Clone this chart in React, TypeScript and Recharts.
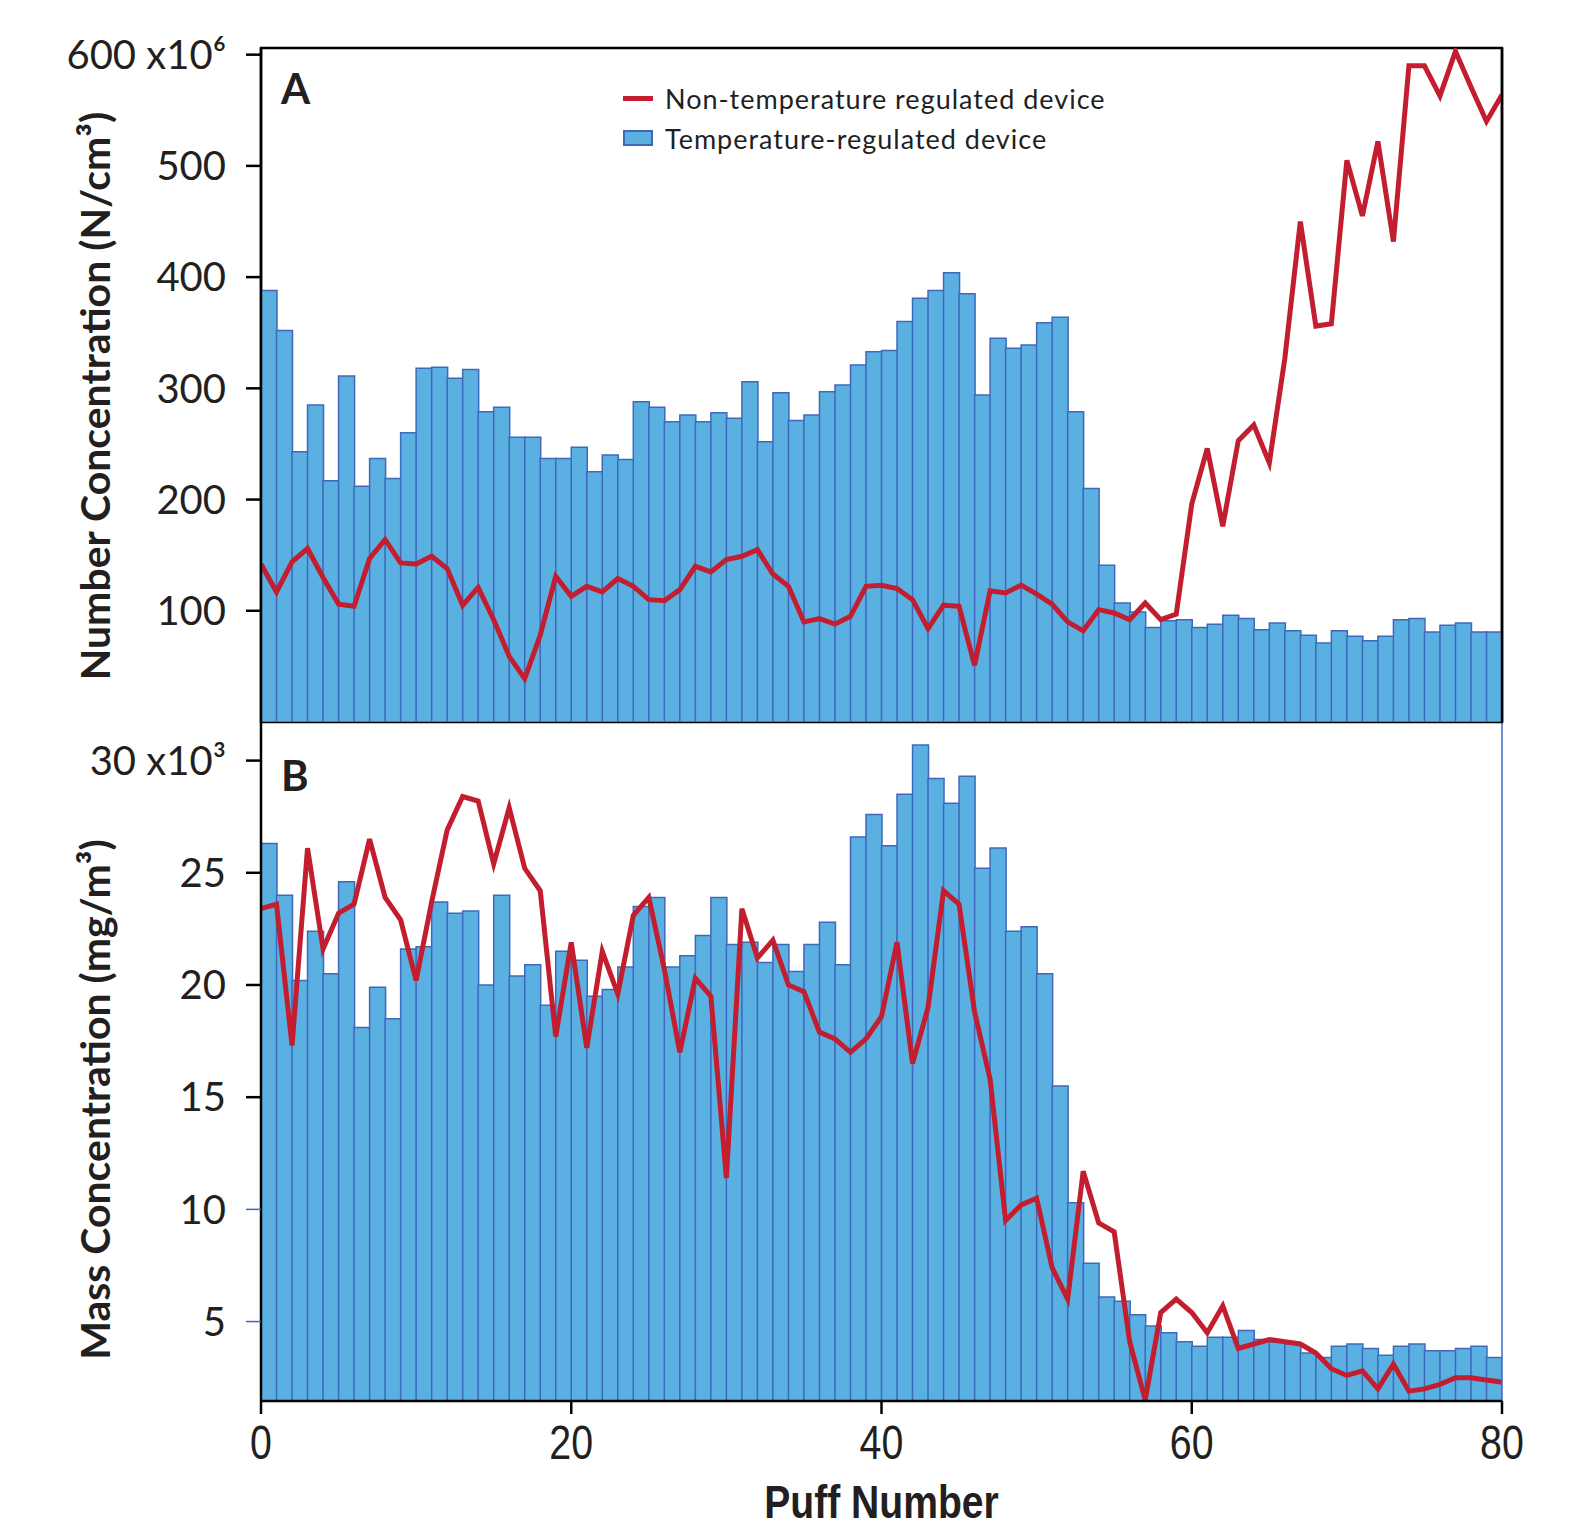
import React from "react";
import { ComposedChart, Bar, Line, XAxis, YAxis, Legend, ReferenceArea, ReferenceLine } from "recharts";

// puff index (x axis categories)
const puffNumber = [
  0, 1, 2, 3, 4, 5, 6, 7, 8, 9, 10, 11, 12, 13, 14, 15, 16, 17, 18, 19, 20,
  21, 22, 23, 24, 25, 26, 27, 28, 29, 30, 31, 32, 33, 34, 35, 36, 37, 38, 39, 40,
  41, 42, 43, 44, 45, 46, 47, 48, 49, 50, 51, 52, 53, 54, 55, 56, 57, 58, 59, 60,
  61, 62, 63, 64, 65, 66, 67, 68, 69, 70, 71, 72, 73, 74, 75, 76, 77, 78, 79, 80,
];

// panel A: number concentration, x10^6 N/cm3
const numberTempRegulated = [
  388, 352, 243, 285, 217, 311, 212, 237, 219, 260,
  318, 319, 309, 317, 279, 283, 256, 256, 237, 237,
  247, 225, 240, 236, 288, 283, 270, 276, 270, 278,
  273, 306, 252, 296, 271, 276, 297, 303, 321, 333,
  334, 360, 381, 388, 404, 385, 294, 345, 336, 339,
  359, 364, 279, 210, 141, 107, 99, 85, 91, 92,
  85, 88, 96, 93, 83, 89, 82, 78, 71, 82,
  77, 73, 77, 92, 93, 81, 87, 89, 81, 81,
];
const numberNonRegulated = [
  142, 117, 144, 156, 130, 106, 104, 147, 164, 143,
  142, 149, 138, 105, 121, 92, 59, 39, 78, 131,
  113, 122, 117, 129, 122, 110, 109, 119, 140, 135,
  146, 149, 155, 133, 122, 90, 93, 88, 95, 122,
  123, 120, 110, 84, 105, 104, 51, 118, 116, 123,
  115, 106, 90, 82, 101, 98, 92, 107, 92, 97,
  196, 246, 176, 253, 267, 233, 327, 450, 356, 358,
  505, 455, 522, 432, 590, 590, 563, 603, 571, 540,
  564,
];

// panel B: mass concentration, x10^3 mg/m3
const massTempRegulated = [
  26.3, 24.0, 20.2, 22.4, 20.5, 24.6, 18.1, 19.9, 18.5, 21.6,
  21.7, 23.7, 23.2, 23.3, 20.0, 24.0, 20.4, 20.9, 19.1, 21.5,
  21.1, 19.5, 19.8, 20.8, 23.5, 23.9, 20.8, 21.3, 22.2, 23.9,
  21.8, 21.9, 21.0, 21.8, 20.6, 21.8, 22.8, 20.9, 26.6, 27.6,
  26.2, 28.5, 30.7, 29.2, 28.1, 29.3, 25.2, 26.1, 22.4, 22.6,
  20.5, 15.5, 10.3, 7.6, 6.1, 5.9, 5.3, 4.8, 4.5, 4.1,
  3.9, 4.3, 4.3, 4.6, 4.2, 4.1, 4.0, 3.6, 3.4, 3.9,
  4.0, 3.8, 3.5, 3.9, 4.0, 3.7, 3.7, 3.8, 3.9, 3.4,
];
const massNonRegulated = [
  23.4, 23.6, 17.3, 26.1, 21.6, 23.2, 23.6, 26.5, 23.9, 22.9,
  20.2, 23.7, 26.9, 28.4, 28.2, 25.4, 27.9, 25.2, 24.2, 17.7,
  21.9, 17.2, 21.5, 19.6, 23.1, 23.9, 20.7, 17.0, 20.3, 19.5,
  11.4, 23.4, 21.2, 22.0, 20.0, 19.7, 17.9, 17.6, 17.0, 17.6,
  18.6, 21.9, 16.5, 19.0, 24.2, 23.6, 18.8, 15.8, 9.5, 10.2,
  10.5, 7.4, 6.0, 11.7, 9.4, 9.0, 4.1, 1.5, 5.4, 6.0,
  5.4, 4.5, 5.7, 3.8, 4.0, 4.2, 4.1, 4.0, 3.6, 2.9,
  2.6, 2.8, 2.0, 3.1, 1.9, 2.0, 2.2, 2.5, 2.5, 2.4,
  2.3,
];

const numberTicks = [100, 200, 300, 400, 500, 600];
const numberMinorTicks = [50];
const massTicks = [5, 10, 15, 20, 25, 30];
const puffTicks = [0, 20, 40, 60, 80];

const lineName = "Non-temperature regulated device";
const barName = "Temperature-regulated device";

const numberDomain = [0, 606];
const massDomain = [1.46, 31.72];

const numberRows = puffNumber.map((p, i) => ({
  puff: p,
  mid: p + 0.5,
  bar: numberTempRegulated[i] ?? null,
  line: numberNonRegulated[i],
}));
const massRows = puffNumber.map((p, i) => ({
  puff: p,
  mid: p + 0.5,
  bar: massTempRegulated[i] ?? null,
  line: massNonRegulated[i],
}));

const W = 1573;
const FONT = "Lato, 'Noto Sans', sans-serif";
const TEXT = "#231F20";
const BAR_FILL = "#5BB0E2";
const BAR_STROKE = "#3F68BC";
const RED = "#C21E2F";
const TICK_SIZE = 15;
const TICK_MARGIN = 20;

const AxisTitle = ({ viewBox, text, dy }: any) => {
  const x = viewBox.x + 110;
  const y = viewBox.y + viewBox.height / 2 + dy;
  return (
    <text x={x} y={y} transform={`rotate(-90 ${x} ${y})`} textAnchor="middle"
      fontFamily={FONT} fontWeight={700} fontSize={41} fill={TEXT}>
      {text}
    </text>
  );
};

const PanelLetter = ({ viewBox, letter, dx, dy }: any) => (
  <text x={viewBox.x + dx} y={viewBox.y + dy} fontFamily={FONT} fontWeight={700} fontSize={42} fill={TEXT}>
    {letter}
  </text>
);

const MassTick = ({ x, y, payload }: any) => {
  const v = payload.value;
  const blue = v <= 10;
  return (
    <g>
      <line x1={x + TICK_MARGIN} x2={x + TICK_MARGIN + TICK_SIZE} y1={y} y2={y}
        stroke={blue ? BAR_STROKE : "#000"} strokeWidth={blue ? 1.5 : 2.5} />
      <text x={x} y={y} dy="0.355em" textAnchor="end" fontFamily={FONT} fontSize={40} fill={TEXT}>
        {v === 30 ? "30 x10³" : v}
      </text>
    </g>
  );
};

const PuffTick = ({ x, y, payload }: any) => (
  <text transform={`translate(${x} ${y}) scale(0.82 1)`} textAnchor="middle" dy="0.71em"
    fontFamily="'Liberation Sans', Arial, sans-serif" fontSize={48} fill={TEXT}>
    {payload.value}
  </text>
);

const PuffTitle = ({ viewBox }: any) => (
  <text transform={`translate(${viewBox.x + viewBox.width / 2} ${viewBox.y + 117}) scale(0.85 1)`}
    textAnchor="middle" fontFamily="'Liberation Sans', Arial, sans-serif" fontWeight={700} fontSize={46} fill={TEXT}>
    Puff Number
  </text>
);

const renderLegend = (props: any) => {
  const items = [...(props.payload ?? [])].sort(
    (a: any, b: any) => (a.type === "line" ? 0 : 1) - (b.type === "line" ? 0 : 1)
  );
  return (
    <div style={{ fontFamily: FONT, fontSize: 27, letterSpacing: 1, color: TEXT }}>
      {items.map((it: any) => (
        <div key={it.value} style={{ display: "flex", alignItems: "center", height: 40 }}>
          {it.type === "line" ? (
            <div style={{ width: 30, height: 5, background: RED }} />
          ) : (
            <div style={{ width: 30, height: 16, boxSizing: "border-box", background: BAR_FILL, border: `2px solid ${BAR_STROKE}` }} />
          )}
          <span style={{ marginLeft: 12, whiteSpace: "nowrap" }}>{it.value}</span>
        </div>
      ))}
    </div>
  );
};

export default function App() {
  return (
    <div style={{ position: "absolute", left: 0, top: 0, width: W, height: 1531, background: "#fff" }}>
      <div style={{ position: "absolute", left: 0, top: 0, zIndex: 2 }}>
        <ComposedChart width={W} height={726} data={numberRows} barCategoryGap={0} barGap={0}
          margin={{ top: 48, right: 0, bottom: 4, left: 0 }}>
          <XAxis xAxisId="line" type="number" dataKey="puff" domain={[0, 80]} allowDataOverflow hide height={0} />
          <XAxis xAxisId="bar" type="number" dataKey="mid" domain={[0, 80]} allowDataOverflow hide height={0} />
          <YAxis yAxisId="l" type="number" domain={numberDomain} ticks={numberTicks} allowDataOverflow
            width={261} tickSize={TICK_SIZE} tickMargin={TICK_MARGIN}
            axisLine={{ stroke: "#000", strokeWidth: 2.5 }} tickLine={{ stroke: "#000", strokeWidth: 2.5 }}
            tick={{ fontFamily: FONT, fontSize: 40, fill: TEXT }}
            tickFormatter={(v: number) => (v === 600 ? "600 x10⁶" : `${v}`)}
            label={{ content: (p: any) => <AxisTitle {...p} text="Number Concentration (N/cm³)" dy={11} /> }} />
          <YAxis yAxisId="r" orientation="right" type="number" domain={numberDomain} ticks={numberMinorTicks}
            allowDataOverflow width={71} tickSize={8} tick={false}
            axisLine={{ stroke: "#000", strokeWidth: 2.5 }} tickLine={{ stroke: "#000", strokeWidth: 2.5 }} />
          <Bar xAxisId="bar" yAxisId="l" dataKey="bar" name={barName} fill={BAR_FILL} stroke={BAR_STROKE}
            strokeWidth={1.5} isAnimationActive={false} legendType="rect" />
          <Line xAxisId="line" yAxisId="l" dataKey="line" name={lineName} type="linear" stroke={RED}
            strokeWidth={5} dot={false} activeDot={false} isAnimationActive={false} legendType="line" />
          <ReferenceArea xAxisId="line" yAxisId="l" x1={0} x2={80} y1={numberDomain[0]} y2={numberDomain[1]}
            fill="none" fillOpacity={0} stroke="#000" strokeWidth={2.5} ifOverflow="visible"
            label={{ content: (p: any) => <PanelLetter {...p} letter="A" dx={20} dy={56} /> }} />
          <Legend layout="vertical" align="center" verticalAlign="middle" content={renderLegend}
            wrapperStyle={{ position: "absolute", left: 623, top: 78, width: 520, height: 80 }} />
        </ComposedChart>
      </div>
      <div style={{ position: "absolute", left: 0, top: 722, zIndex: 1 }}>
        <ComposedChart width={W} height={809} data={massRows} barCategoryGap={0} barGap={0}
          margin={{ top: 0, right: 71, bottom: 0, left: 0 }}>
          <XAxis xAxisId="bar" type="number" dataKey="mid" domain={[0, 80]} allowDataOverflow hide height={0} />
          <XAxis xAxisId="line" type="number" dataKey="puff" domain={[0, 80]} ticks={puffTicks} allowDataOverflow
            height={130} tickSize={13} tickMargin={11}
            axisLine={{ stroke: "#000", strokeWidth: 2.5 }} tickLine={{ stroke: "#000", strokeWidth: 2.5 }}
            tick={<PuffTick />}
            label={{ content: (p: any) => <PuffTitle {...p} /> }} />
          <YAxis yAxisId="l" type="number" domain={massDomain} ticks={massTicks} allowDataOverflow
            width={261} tickSize={TICK_SIZE} tickMargin={TICK_MARGIN}
            axisLine={{ stroke: "#000", strokeWidth: 2.5 }} tickLine={false}
            tick={<MassTick />}
            label={{ content: (p: any) => <AxisTitle {...p} text="Mass Concentration (mg/m³)" dy={38} /> }} />
          <Bar xAxisId="bar" yAxisId="l" dataKey="bar" name={barName} fill={BAR_FILL} stroke={BAR_STROKE}
            strokeWidth={1.5} isAnimationActive={false} />
          <Line xAxisId="line" yAxisId="l" dataKey="line" name={lineName} type="linear" stroke={RED}
            strokeWidth={5} dot={false} activeDot={false} isAnimationActive={false} />
          <ReferenceLine xAxisId="line" yAxisId="l" x={80} stroke={BAR_STROKE} strokeWidth={1.5} ifOverflow="visible" />
          <ReferenceArea xAxisId="line" yAxisId="l" x1={0} x2={80} y1={massDomain[0]} y2={massDomain[1]}
            fill="none" fillOpacity={0} stroke="none" ifOverflow="visible"
            label={{ content: (p: any) => <PanelLetter {...p} letter="B" dx={20} dy={69} /> }} />
        </ComposedChart>
      </div>
    </div>
  );
}
